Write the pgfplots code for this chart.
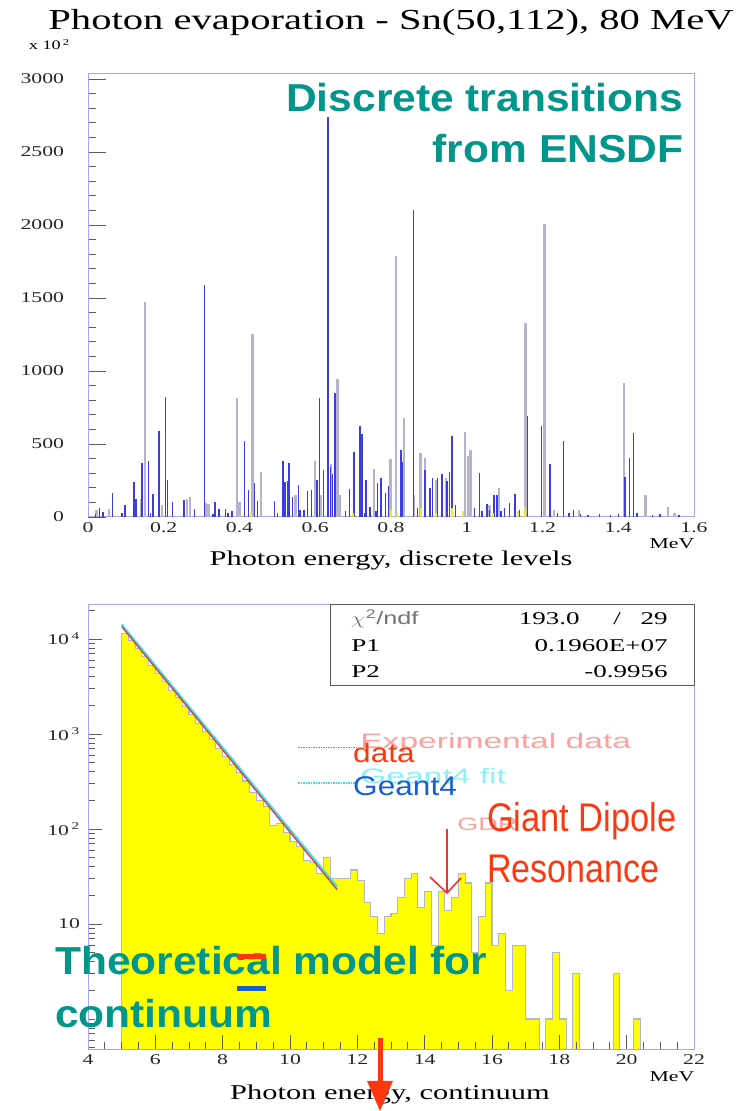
\documentclass[border=0pt]{standalone}
\usepackage{pgfplots}
\pgfplotsset{compat=1.18}
\usepackage{fontspec}
\setmainfont{Liberation Serif}
\newfontfamily\arial{Liberation Sans}
\definecolor{frameblue}{RGB}{165,165,245}
\definecolor{tickgray}{RGB}{90,90,90}
\definecolor{tealtxt}{RGB}{0,150,140}
\definecolor{spikeblue}{RGB}{60,60,225}
\definecolor{spikegray}{RGB}{180,180,205}
\definecolor{spikeyel}{RGB}{235,235,40}
\definecolor{histline}{RGB}{180,180,205}
\definecolor{histfill}{RGB}{255,255,0}
\definecolor{orred}{RGB}{255,55,15}
\definecolor{fitred}{RGB}{215,60,60}
\definecolor{fitcyan}{RGB}{60,220,235}
\definecolor{pinktxt}{RGB}{255,160,160}
\definecolor{cyantxt}{RGB}{140,240,250}
\definecolor{geantblue}{RGB}{20,95,210}
\definecolor{arrowred}{RGB}{240,50,50}
\begin{document}
\begin{tikzpicture}
\path[use as bounding box] (0pt,0pt) rectangle (739pt,1111pt);

% ---------------- top panel ----------------
\begin{axis}[
  at={(88pt,594pt)}, anchor=south west, scale only axis,
  width=606pt, height=443pt,
  xmin=0, xmax=1.6, ymin=0, ymax=3034,
  axis line style={color=frameblue, line width=1pt},
  xtick={0,0.2,0.4,0.6,0.8,1,1.2,1.4,1.6},
  xticklabels={0,0.2,0.4,0.6,0.8,1,1.2,1.4,1.6},
  ytick={0,500,1000,1500,2000,2500,3000},
  yticklabels={0,500,1000,1500,2000,2500,3000},
  minor y tick num=4,
  xtick pos=left, ytick pos=left,
  tick style={color=tickgray, line width=0.8pt},
  xtick style={draw=none},
  major tick length=18pt, minor tick length=8pt,
  /pgf/number format/assume math mode=true,
  tick label style={font=\fontsize{15}{15}\selectfont, text=black!85, xscale=1.45},
  yticklabel style={xshift=-13pt},
  xticklabel style={yshift=-2pt},
]
\addplot[ycomb, draw=spikegray, line width=2.4pt] coordinates {
(0.022,50) (0.055,55) (0.140,120) (0.151,1473) (0.195,80) (0.261,125) (0.270,140)
(0.310,95) (0.318,90) (0.393,818) (0.400,100) (0.434,1255) (0.456,311) (0.548,150)
(0.600,386) (0.615,150) (0.641,360) (0.659,948) (0.665,150) (0.755,330) (0.799,398)
(0.813,1788) (0.834,677) (0.860,150) (0.878,439) (0.890,402) (0.920,250) (0.945,270)
(0.996,580) (1.003,420) (1.010,461) (1.060,80) (1.085,200) (1.155,1330) (1.205,2007)
(1.230,50) (1.296,45) (1.415,920) (1.472,148) (1.532,68) (1.548,30)
};
\addplot[ycomb, draw=spikeblue, line width=1.4pt] coordinates {
(0.020,20) (0.030,60) (0.040,35) (0.064,166) (0.090,30) (0.098,80) (0.121,239) (0.127,120)
(0.143,368) (0.159,386) (0.165,30) (0.172,159) (0.187,591) (0.205,823) (0.210,250)
(0.223,100) (0.253,114) (0.281,57) (0.307,1586) (0.330,20) (0.335,102) (0.346,57)
(0.363,55) (0.370,30) (0.380,40) (0.413,523) (0.424,182) (0.440,230) (0.447,110)
(0.493,109) (0.500,30) (0.515,386) (0.520,240) (0.526,245) (0.531,370) (0.540,140)
(0.555,216) (0.560,50) (0.570,45) (0.580,180) (0.590,185) (0.605,250) (0.612,818)
(0.621,325) (0.634,2740) (0.640,340) (0.646,295) (0.652,852) (0.680,40) (0.690,195)
(0.702,443) (0.718,620) (0.723,568) (0.730,30) (0.734,250) (0.745,70) (0.760,40)
(0.764,230) (0.774,270) (0.785,164) (0.794,211) (0.826,461) (0.831,375) (0.859,2103)
(0.870,60) (0.890,325) (0.903,200) (0.910,268) (0.922,270) (0.935,293) (0.948,245)
(0.955,310) (0.961,557) (0.970,80) (1.020,60) (1.034,302) (1.040,40) (1.053,86)
(1.060,50) (1.072,150) (1.080,150) (1.090,40) (1.100,65) (1.113,95) (1.127,160)
(1.140,50) (1.160,689) (1.198,620) (1.220,364) (1.240,30) (1.255,523) (1.270,25)
(1.282,45) (1.300,20) (1.320,15) (1.350,20) (1.380,15) (1.400,20) (1.418,273)
(1.430,402) (1.441,573) (1.450,30) (1.490,15) (1.510,20) (1.560,15)
};
\addplot[ycomb, draw=spikeyel, line width=2pt] coordinates {
(0.430,25) (0.700,25) (0.800,50) (0.815,30) (0.880,60) (0.920,25) (0.960,65)
(0.990,40) (1.070,30) (1.135,40) (1.155,70)
};
\end{axis}

% ---------------- bottom panel ----------------
\begin{axis}[
  at={(88pt,62pt)}, anchor=south west, scale only axis,
  width=606pt, height=444pt, axis on top,
  xmin=4, xmax=22, ymode=log, ymin=0.483, ymax=22800,
  axis line style={color=frameblue, line width=1pt},
  xtick={4,6,8,10,12,14,16,18,20,22},
  xticklabels={4,6,8,10,12,14,16,18,20,22},
  minor xtick={4.5,5,...,21.5},
  ytick={10,100,1000,10000},
  yticklabels={10,10\textsuperscript{\,2},10\textsuperscript{\,3},10\textsuperscript{\,4}},
  minor ytick={0.5,0.6,0.7,0.8,0.9,1,2,3,4,5,6,7,8,9,20,30,40,50,60,70,80,90,200,300,400,500,600,700,800,900,2000,3000,4000,5000,6000,7000,8000,9000,20000},
  xtick pos=left, ytick pos=left,
  tick style={color=tickgray, line width=0.8pt},
  major tick length=14pt, minor tick length=7pt,
  /pgf/number format/assume math mode=true,
  tick label style={font=\fontsize{15}{15}\selectfont, text=black!85, xscale=1.45},
  yticklabel style={xshift=-2pt},
  xticklabel style={yshift=-2pt},
]
% histogram: bins of 0.2 MeV; values below the axis floor (0.3) stand for empty bins
\addplot[const plot, draw=histline, line width=1.1pt, fill=histfill] coordinates {
(5.0,0.3)
(5.0,11500) (5.2,9600) (5.4,8000) (5.6,6500) (5.8,5300) (6.0,4350) (6.2,3550)
(6.4,2900) (6.6,2400) (6.8,1950) (7.0,1600) (7.2,1300) (7.4,1060) (7.6,880)
(7.8,700) (8.0,580) (8.2,480) (8.4,390) (8.6,320) (8.8,240) (9.0,200) (9.2,172)
(9.4,110) (9.6,115) (9.8,91) (10.0,74) (10.2,65) (10.4,47) (10.6,44) (10.8,34)
(11.0,50) (11.2,30) (11.4,30) (11.6,30) (11.8,37) (12.0,29) (12.2,17) (12.4,12)
(12.6,8) (12.8,12) (13.0,13) (13.2,19) (13.4,30) (13.6,34) (13.8,15) (14.0,22)
(14.2,6) (14.4,22) (14.6,14) (14.8,19) (15.0,34) (15.2,27) (15.4,5) (15.6,12)
(15.8,27) (16.0,6) (16.2,8) (16.4,2) (16.6,6) (16.8,6) (17.0,1) (17.2,1)
(17.4,0.3) (17.6,1) (17.8,5) (18.0,1) (18.2,0.3) (18.4,3) (18.6,0.3) (19.6,3)
(19.8,0.3) (20.2,1) (20.4,0.3)
} -- cycle;
\addplot[draw=fitcyan, line width=2pt] coordinates {(5.0,14200) (11.4,24.5)};
\addplot[draw=fitred, line width=1.3pt] coordinates {(5.0,13500) (11.4,23)};
\end{axis}

\begin{scope}[x=1pt,y=1pt]
% ---------------- texts of the top panel ----------------
\node[anchor=base, font=\fontsize{29}{29}\selectfont, xscale=1.4] at (391,1081)
  {Photon evaporation - Sn(50,112), 80 MeV};
\node[anchor=base west, font=\fontsize{13}{13}\selectfont, xscale=1.4] at (24,1061)
  {x 10\textsuperscript{\,2}};
\node[anchor=base east, font=\arial\bfseries\fontsize{39}{39}\selectfont, text=tealtxt, xscale=1.09]
  at (687,999) {Discrete transitions};
\node[anchor=base east, font=\arial\bfseries\fontsize{39}{39}\selectfont, text=tealtxt, xscale=1.09]
  at (687,948) {from ENSDF};
\node[anchor=base, font=\fontsize{15}{15}\selectfont, xscale=1.45] at (672,562) {MeV};
\node[anchor=base, font=\fontsize{21}{21}\selectfont, xscale=1.45] at (391,545)
  {Photon energy, discrete levels};

% ---------------- texts of the bottom panel ----------------
\draw[draw=black!65, line width=1pt, fill=white] (330,425) rectangle (694,506);
\node[anchor=base west, font=\arial\fontsize{18}{18}\selectfont, text=black!55, xscale=1.4]
  at (346,486) {$\chi$\textsuperscript{2}/ndf};
\node[anchor=base east, font=\fontsize{18}{18}\selectfont, xscale=1.5] at (585,486) {193.0};
\node[anchor=base, font=\fontsize{18}{18}\selectfont, xscale=1.5] at (617,486) {/};
\node[anchor=base east, font=\fontsize{18}{18}\selectfont, xscale=1.5] at (673,486) {29};
\node[anchor=base west, font=\fontsize{18}{18}\selectfont, xscale=1.5] at (346,459) {P1};
\node[anchor=base east, font=\fontsize{18}{18}\selectfont, xscale=1.5] at (673,459) {0.1960E+07};
\node[anchor=base west, font=\fontsize{18}{18}\selectfont, xscale=1.5] at (346,433) {P2};
\node[anchor=base east, font=\fontsize{18}{18}\selectfont, xscale=1.5] at (673,433) {-0.9956};

\draw[fitred!80, line width=1pt, dash pattern=on 1.5pt off 1pt] (298,363) -- (358,363);
\draw[fitcyan, line width=1.2pt, dash pattern=on 1.5pt off 1pt] (298,328) -- (358,328);
\node[anchor=base west, font=\arial\fontsize{21}{21}\selectfont, text=pinktxt, xscale=1.6, inner sep=0pt]
  at (360,362) {Experimental data};
\node[anchor=base west, font=\arial\fontsize{21}{21}\selectfont, text=cyantxt, xscale=1.6, inner sep=0pt]
  at (360,327) {Geant4 fit};
\node[anchor=base west, font=\arial\fontsize{27}{27}\selectfont, text=orred, xscale=1.17, inner sep=0pt]
  at (353,348) {data};
\node[anchor=base west, font=\arial\fontsize{27}{27}\selectfont, text=geantblue, xscale=1.17, inner sep=0pt]
  at (353,315) {Geant4};

\node[anchor=base west, font=\arial\fontsize{18}{18}\selectfont, text=pinktxt, xscale=1.5, inner sep=0pt]
  at (457,280) {GDR};
\draw[arrowred, line width=1.6pt] (447,282) -- (447,218);
\draw[arrowred, line width=1.6pt] (430,234) -- (447,218) -- (461,233);
\node[anchor=base west, font=\arial\fontsize{40}{40}\selectfont, text=orred, xscale=0.86, inner sep=0pt]
  at (487,279) {Giant Dipole};
\node[anchor=base west, font=\arial\fontsize{40}{40}\selectfont, text=orred, xscale=0.85, inner sep=0pt]
  at (487,228) {Resonance};

\node[anchor=base west, font=\arial\bfseries\fontsize{39}{39}\selectfont, text=tealtxt, xscale=1.09, inner sep=0pt]
  at (55,136) {Theoretical model for};
\node[anchor=base west, font=\arial\bfseries\fontsize{39}{39}\selectfont, text=tealtxt, xscale=1.09, inner sep=0pt]
  at (55,83) {continuum};
\draw[orred, line width=5pt] (237,154) -- (266,154);
\draw[geantblue, line width=5pt] (237,122) -- (266,122);

\node[anchor=base, font=\fontsize{15}{15}\selectfont, xscale=1.45] at (672,29) {MeV};
\node[anchor=base, font=\fontsize{21}{21}\selectfont, xscale=1.45] at (390,11)
  {Photon energy, continuum};

\draw[orred, line width=5pt] (380,73) -- (380,28);
\fill[orred] (367,30) -- (393,30) -- (380,0) -- cycle;
\end{scope}
\end{tikzpicture}
\end{document}
